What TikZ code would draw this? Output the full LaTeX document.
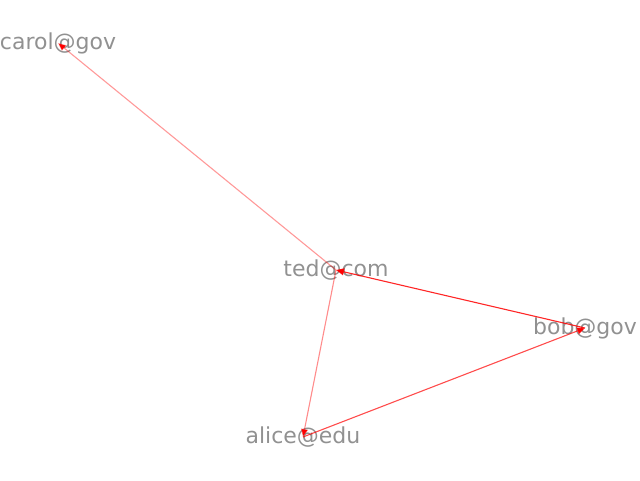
\documentclass[tikz,border=0pt]{standalone}
\usepackage{fontspec}
\setmainfont{DejaVu Sans}
\usetikzlibrary{arrows.meta}
\definecolor{labelgray}{RGB}{145,145,145}
\tikzstyle{acct}=[inner sep=0pt,text=labelgray,font=\fontsize{22}{22}\selectfont]
\tikzstyle{link}=[draw=red,draw opacity=#1,line width=1.1pt,-{Triangle[length=8pt,width=7pt]}]
\newcommand{\account}[3]{\node[acct] (#1) at (#2) {#3};}
\newcommand{\mylink}[3]{ \draw[link=#1] (#2.center) -- (#3.center);}

\begin{document}
\begin{tikzpicture}[x=1pt,y=-1pt]
    \useasboundingbox (0,0) rectangle (640,480);
    % accounts
    \account{carol}{58,43}{carol@gov}
    \account{ted}{336,270}{ted@com}
    \account{bob}{585,328}{bob@gov}
    \account{alice}{303,437}{alice@edu}

    \mylink{0.4}{ted}{carol}
    \mylink{0.85}{bob}{ted}
    \mylink{0.45}{ted}{alice}
    \mylink{0.7}{alice}{bob}

\end{tikzpicture}
\end{document}
